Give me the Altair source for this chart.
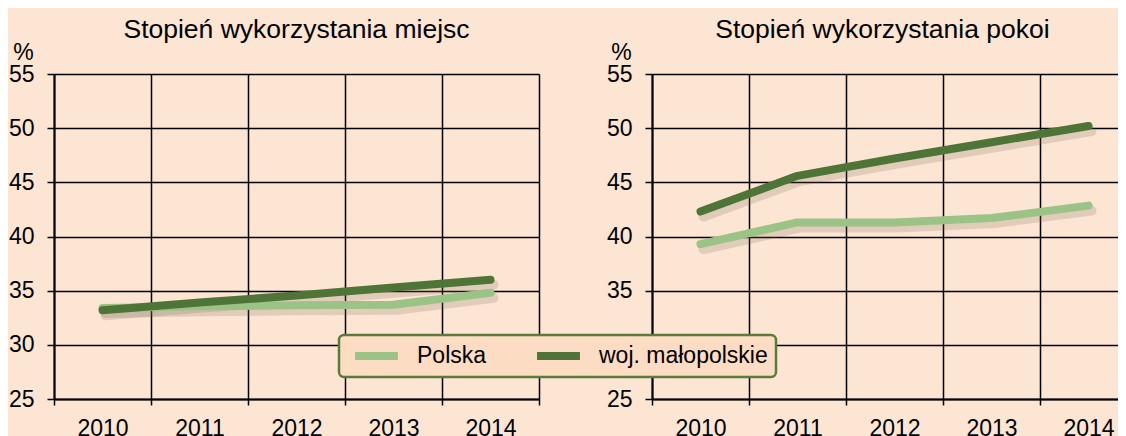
import altair as alt
import pandas as pd

years = ["2010", "2011", "2012", "2013", "2014"]
series_names = ["Polska", "woj. małopolskie"]
miejsca_polska = [33.4, 33.55, 33.65, 33.7, 34.8]
miejsca_malopolskie = [33.2, 33.9, 34.55, 35.3, 36.0]
pokoje_polska = [39.3, 41.3, 41.3, 41.7, 42.85]
pokoje_malopolskie = [42.3, 45.6, 47.2, 48.7, 50.2]
y_ticks = [25, 30, 35, 40, 45, 50, 55]
y_domain = [25, 55]
panel_titles = ["Stopień wykorzystania miejsc", "Stopień wykorzystania pokoi"]
y_unit = "%"

LIGHT = "#9cc386"
DARK = "#4f7437"
BG = "#fce5d2"
FONT = "Liberation Sans"


def make_df(polska, malo):
    rows = []
    for s, vals in zip(series_names, [polska, malo]):
        for yr, v in zip(years, vals):
            rows.append({"rok": yr, "seria": s, "wartosc": v})
    return pd.DataFrame(rows)


legend = alt.Legend(
    orient="none", legendX=285, legendY=261, direction="horizontal", title=None,
    symbolType="stroke", symbolSize=1842, symbolStrokeWidth=8, symbolOffset=4,
    clipHeight=26, labelFont=FONT, labelFontSize=23, labelColor="black",
    labelOffset=15, columnPadding=42, padding=8, fillColor="#fcdcc3",
    strokeColor="#5a7b3c", cornerRadius=5, labelLimit=300,
)


def panel(df, title, title_dx):
    x = alt.X(
        "rok:O", sort=years, bandPosition=0.5,
        scale=alt.Scale(type="band", paddingInner=0, paddingOuter=0),
        axis=alt.Axis(title=None, tickBand="extent", grid=True, labelAngle=0, tickSize=6,
                      labelPadding=12, domainWidth=2, tickWidth=1.5),
    )
    y = alt.Y(
        "wartosc:Q", scale=alt.Scale(domain=y_domain, nice=False, zero=False),
        axis=alt.Axis(values=y_ticks, title=y_unit, titleAngle=0, titleX=-31,
                      titleY=-15, titleAlign="center", titleBaseline="alphabetic",
                      tickSize=7, labelPadding=13, domainWidth=2, tickWidth=1.5),
    )
    shadow = alt.Chart(df).mark_line(
        color="#7a6a5a", opacity=0.2, strokeWidth=10, strokeCap="round",
        strokeJoin="round", xOffset=3, yOffset=5,
    ).encode(x=x, y=y, detail="seria:N")
    lines = alt.Chart(df).mark_line(
        strokeWidth=8, strokeCap="round", strokeJoin="round",
    ).encode(
        x=x, y=y,
        color=alt.Color("seria:N", scale=alt.Scale(domain=series_names, range=[LIGHT, DARK]),
                        legend=legend),
    )
    return alt.layer(shadow, lines).properties(
        width=485, height=325,
        title=alt.TitleParams(title, dx=title_dx, dy=27.5, baseline="alphabetic", offset=4),
    )


left = panel(make_df(miejsca_polska, miejsca_malopolskie), panel_titles[0], 0)
right = panel(make_df(pokoje_polska, pokoje_malopolskie), panel_titles[1], -12)

chart = alt.hconcat(left, right, spacing=66).resolve_scale(color="shared").resolve_legend(
    color="shared"
).configure(
    background=BG, padding={"left": 0, "top": 9, "right": -20, "bottom": 12}
).configure_view(stroke=None).configure_axis(
    domainColor="black", tickColor="black", gridColor="black", gridWidth=1.5,
    gridOpacity=1, labelColor="black", labelFont=FONT, labelFontSize=23,
    titleFont=FONT, titleFontSize=23, titleFontWeight="normal", titleColor="black",
).configure_title(
    font=FONT, fontSize=26.5, fontWeight="normal", color="black"
).configure_legend(strokeWidth=2.5)

chart.save("out.html", embed_options={"renderer": "svg", "actions": False})
